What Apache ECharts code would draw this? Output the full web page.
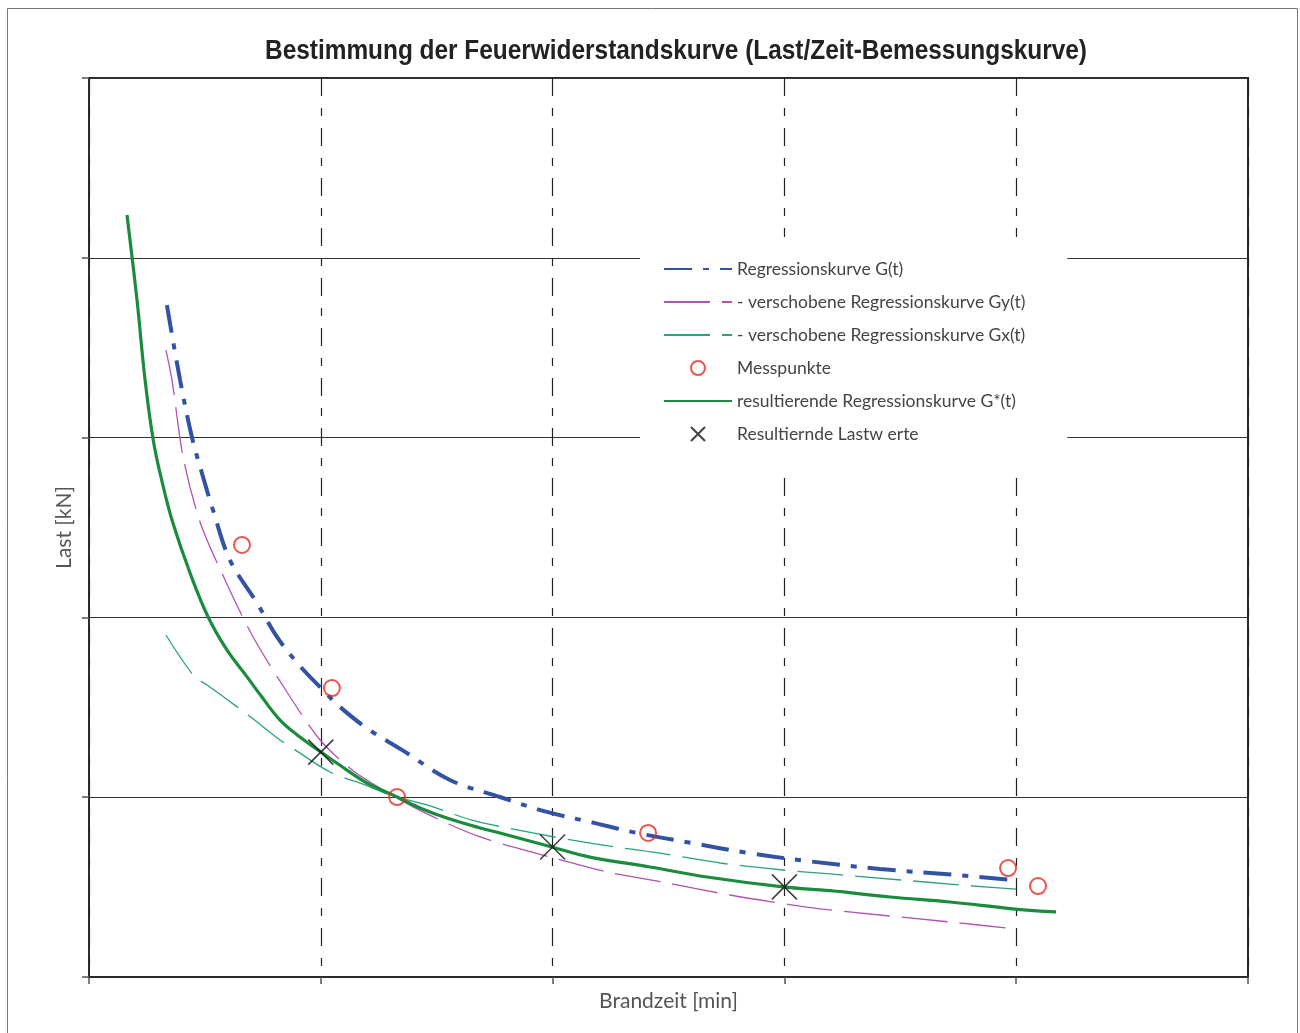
<!DOCTYPE html>
<html>
<head>
<meta charset="utf-8">
<script src="https://cdn.jsdelivr.net/npm/echarts@6/dist/echarts.min.js"></script>
<style>html,body{margin:0;padding:0;background:#fff}#c{width:1300px;height:1033px}</style>
</head>
<body>
<div id="c"></div>
<script>
// Axis ranges (no tick labels are shown in the reference)
const xTicks = [0, 1, 2, 3, 4, 5];
const yTicks = [0, 1, 2, 3, 4, 5];

// Regressionskurve G(t)
const gT = [[0.336,3.737],[0.393,3.320],[0.444,3.003],[0.487,2.803],[0.535,2.597],[0.608,2.319],[0.725,2.080],[0.811,1.891],[0.910,1.730],[1.001,1.607],[1.083,1.502],[1.204,1.379],[1.350,1.263],[1.557,1.096],[1.773,1.001],[1.976,0.918],[2.183,0.856],[2.364,0.801],[2.601,0.745],[2.843,0.690],[3.098,0.645],[3.412,0.601],[3.745,0.567],[3.990,0.539]];
// verschobene Regressionskurve Gy(t)
const gyT = [[0.332,3.487],[0.358,3.320],[0.406,2.892],[0.479,2.531],[0.587,2.208],[0.708,1.891],[0.854,1.585],[0.997,1.318],[1.135,1.151],[1.255,1.051],[1.441,0.918],[1.687,0.779],[1.989,0.667],[2.235,0.584],[2.494,0.523],[2.765,0.456],[3.037,0.400],[3.197,0.373],[3.714,0.306],[3.999,0.267]];
// verschobene Regressionskurve Gx(t)
const gxT = [[0.332,1.902],[0.449,1.680],[0.509,1.624],[0.587,1.552],[0.703,1.440],[0.824,1.318],[0.889,1.263],[1.040,1.140],[1.191,1.068],[1.299,1.012],[1.458,0.957],[1.652,0.873],[1.915,0.801],[2.183,0.740],[2.455,0.690],[2.722,0.634],[2.994,0.595],[3.197,0.573],[3.814,0.506],[3.999,0.489]];
// resultierende Regressionskurve G*(t)
const gStar = [[0.164,4.238],[0.207,3.766],[0.242,3.320],[0.278,2.980],[0.318,2.740],[0.362,2.525],[0.436,2.247],[0.514,2.002],[0.595,1.819],[0.682,1.669],[0.746,1.557],[0.824,1.429],[0.910,1.335],[1.001,1.251],[1.113,1.151],[1.199,1.079],[1.311,1.012],[1.428,0.940],[1.544,0.884],[1.687,0.829],[1.773,0.801],[1.997,0.723],[2.161,0.667],[2.420,0.612],[2.666,0.556],[2.994,0.501],[3.197,0.480],[3.456,0.445],[3.714,0.417],[3.995,0.378],[4.172,0.362]];
// Messpunkte
const messpunkte = [[0.660,2.403],[1.048,1.607],[1.329,1.001],[2.412,0.801],[3.965,0.606],[4.094,0.506]];
// Resultiernde Lastwerte
const lastwerte = [[1.0,1.251],[2.0,0.723],[3.0,0.501]];

const names = ['Regressionskurve G(t)','- verschobene Regressionskurve Gy(t)','- verschobene Regressionskurve Gx(t)','Messpunkte','resultierende Regressionskurve G*(t)','Resultiernde Lastw erte'];
const isLine = [true, true, true, false, true, false];
const titleText = 'Bestimmung der Feuerwiderstandskurve (Last/Zeit-Bemessungskurve)';

// fit the (condensed) title into its reference width
const titleFont = 'bold 28px "Liberation Sans", Arial, sans-serif';
const cv = document.createElement('canvas').getContext('2d');
cv.font = titleFont;
const titleScale = 822 / cv.measureText(titleText).width;

const chart = echarts.init(document.getElementById('c'));
const font = 'Lato, "Noto Sans", sans-serif';
chart.setOption({
  animation: false,
  backgroundColor: '#fff',
  graphic: [
    {type:'rect', shape:{x:7.5,y:8.5,width:1290,height:1030}, style:{fill:'none', stroke:'#777', lineWidth:1}, z:-1},
    {type:'text', x: 676, y: 51, scaleX: titleScale, z: 10,
     style:{text: titleText, font: titleFont, fill:'#222', textAlign:'center', textVerticalAlign:'middle'}}
  ],
  grid: {left: 89, right: 52, top: 78, bottom: 56, show: true, borderColor: '#2a2a2a', borderWidth: 2},
  legend: {
    orient: 'vertical', left: 640, top: 237,
    data: names.map((n, i) => isLine[i] ? {name: n, itemStyle: {opacity: 0}} : {name: n}),
    backgroundColor: '#fff',
    padding: [23, 42, 23, 23],
    itemWidth: 68, itemHeight: 14, itemGap: 15,
    textStyle: {fontFamily: font, fontSize: 17.5, lineHeight: 18, color: '#444', padding: [0,0,0,0]}
  },
  xAxis: {
    type: 'value', min: xTicks[0], max: xTicks[xTicks.length-1], interval: 1,
    name: 'Brandzeit [min]', nameLocation: 'middle', nameGap: 14,
    nameTextStyle: {fontFamily: font, fontSize: 21, color: '#555', verticalAlign: 'top'},
    axisLine: {show: true, lineStyle: {color: '#2a2a2a', width: 2}},
    axisTick: {show: true, length: 7, lineStyle: {color: '#555', width: 1.5}},
    axisLabel: {show: false},
    splitLine: {show: true, lineStyle: {color: '#222', width: 1.2, type: [18, 12, 8, 12]}}
  },
  yAxis: {
    type: 'value', min: yTicks[0], max: yTicks[yTicks.length-1], interval: 1,
    name: 'Last [kN]', nameLocation: 'middle', nameGap: 14,
    nameTextStyle: {fontFamily: font, fontSize: 21, color: '#555', verticalAlign: 'bottom'},
    axisLine: {show: true, lineStyle: {color: '#2a2a2a', width: 2}},
    axisTick: {show: true, length: 7, lineStyle: {color: '#555', width: 1.5}},
    axisLabel: {show: false},
    splitLine: {show: true, lineStyle: {color: '#333', width: 1.2}}
  },
  series: [
    {name: names[0], type: 'line', data: gT, symbol: 'none', smooth: 0.35, z: 3,
     lineStyle: {color: '#3352a3', width: 4, type: [28, 11, 6, 11]}, itemStyle: {color: '#3352a3'}},
    {name: names[1], type: 'line', data: gyT, symbol: 'none', smooth: 0.3, z: 2,
     lineStyle: {color: '#b153b4', width: 1.3, type: [46, 12]}, itemStyle: {color: '#b153b4'}},
    {name: names[2], type: 'line', data: gxT, symbol: 'none', smooth: 0.3, z: 2,
     lineStyle: {color: '#2aa37a', width: 1.3, type: [46, 12]}, itemStyle: {color: '#2aa37a'}},
    {name: names[3], type: 'scatter', data: messpunkte, symbol: 'circle', symbolSize: 16, z: 5,
     itemStyle: {color: 'rgba(255,255,255,0)', borderColor: '#e52a24', borderWidth: 2}},
    {name: names[4], type: 'line', data: gStar, symbol: 'none', smooth: 0.4, z: 4,
     lineStyle: {color: '#1b8c3e', width: 3.2}, itemStyle: {color: '#1b8c3e'}},
    {name: names[5], type: 'scatter', data: lastwerte, symbol: 'path://M0,0L20,20M20,0L0,20', symbolSize: 25, z: 6,
     itemStyle: {color: 'rgba(0,0,0,0)', borderColor: '#111', borderWidth: 1.6}}
  ]
});
</script>
</body>
</html>
